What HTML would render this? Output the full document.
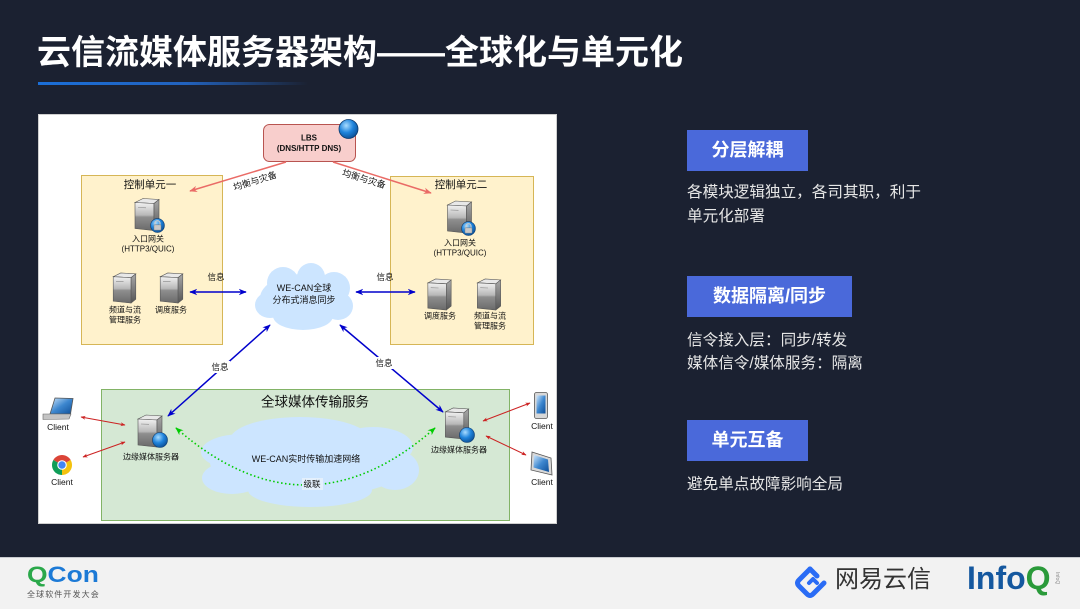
<!DOCTYPE html>
<html><head><meta charset="utf-8">
<style>
html,body{margin:0;padding:0;}
body{width:1080px;height:608px;background:#1b2131;position:relative;overflow:hidden;font-family:"Liberation Sans","Noto Sans CJK SC",sans-serif;}
.title{position:absolute;left:37px;top:31px;font-size:34px;font-weight:bold;color:#fff;white-space:nowrap;line-height:44px;}
.uline{position:absolute;left:38px;top:82px;width:270px;height:3px;background:linear-gradient(90deg,#1b6fd8 0%,#2262bd 55%,rgba(35,80,160,0) 100%);}
.tag{position:absolute;left:687px;height:41px;background:#4a69da;color:#fff;font-weight:bold;font-size:18px;line-height:41px;text-align:center;}
.desc{position:absolute;left:687px;color:#e6e6e6;font-size:15.6px;white-space:nowrap;}
.footer{position:absolute;left:0;top:557px;width:1080px;height:51px;background:#f2f2f2;border-top:1px solid #c9cbd0;}
</style></head>
<body>
<div class="title">云信流媒体服务器架构——全球化与单元化</div>
<div class="uline"></div>

<div class="tag" style="top:130px;width:121px;">分层解耦</div>
<div class="desc" style="top:181px;line-height:24px;">各模块逻辑独立，各司其职，利于<br>单元化部署</div>
<div class="tag" style="top:276px;width:165px;">数据隔离/同步</div>
<div class="desc" style="top:328.5px;line-height:23px;">信令接入层：同步/转发<br>媒体信令/媒体服务：隔离</div>
<div class="tag" style="top:420px;width:121px;">单元互备</div>
<div class="desc" style="top:473px;line-height:24px;">避免单点故障影响全局</div>

<svg style="position:absolute;left:0;top:0" width="1080" height="608" viewBox="0 0 1080 608" font-family="Liberation Sans, Noto Sans CJK SC, sans-serif">
<defs>
 <linearGradient id="sg" x1="0" y1="0" x2="0" y2="1">
  <stop offset="0" stop-color="#f2f2f2"/><stop offset="0.45" stop-color="#b8b8b8"/><stop offset="0.52" stop-color="#8e8e8e"/><stop offset="1" stop-color="#6a6a6a"/>
 </linearGradient>
 <linearGradient id="sd" x1="0" y1="0" x2="0" y2="1">
  <stop offset="0" stop-color="#a8a8a8"/><stop offset="1" stop-color="#555"/>
 </linearGradient>
 <radialGradient id="gb" cx="0.38" cy="0.32" r="0.75"><stop offset="0" stop-color="#a9dcff"/><stop offset="0.5" stop-color="#1f84dc"/><stop offset="1" stop-color="#0a4a8f"/></radialGradient>
 <linearGradient id="scr" x1="0" y1="0" x2="1" y2="1"><stop offset="0" stop-color="#cfe6fb"/><stop offset="0.5" stop-color="#3d87cf"/><stop offset="1" stop-color="#0f4f98"/></linearGradient>
 <symbol id="srv" viewBox="0 0 26 34">
   <path d="M1,5 L9,1 L25,2 L20,6 Z" fill="#e8e8e8" stroke="#555" stroke-width="0.6"/>
   <path d="M1,5 L20,6 L20,33 L1,31 Z" fill="url(#sg)" stroke="#555" stroke-width="0.6"/>
   <path d="M20,6 L25,2 L25,29 L20,33 Z" fill="url(#sd)" stroke="#555" stroke-width="0.6"/>
   <line x1="4" y1="10" x2="12" y2="10.3" stroke="#888" stroke-width="0.6"/>
 </symbol>
 <symbol id="lock" viewBox="0 0 16 16">
   <circle cx="8" cy="8" r="7.4" fill="url(#gb)" stroke="#0b3a6e" stroke-width="0.6"/>
   <path d="M5.3,7.5 V5.6 A2.7,2.7 0 0 1 10.7,5.6 V7.5" fill="none" stroke="#ccc" stroke-width="1.2"/>
   <rect x="4.2" y="7.3" width="7.6" height="5.6" rx="0.8" fill="#c8c8c8" stroke="#666" stroke-width="0.4"/>
 </symbol>
 <marker id="ab" viewBox="0 0 10 10" refX="9" refY="5" markerWidth="8" markerHeight="8" orient="auto-start-reverse" markerUnits="userSpaceOnUse"><path d="M0,1 L10,5 L0,9 L3,5 Z" fill="#0000cc"/></marker>
 <marker id="ar" viewBox="0 0 10 10" refX="9" refY="5" markerWidth="8" markerHeight="8" orient="auto-start-reverse" markerUnits="userSpaceOnUse"><path d="M0,1 L10,5 L0,9 L3,5 Z" fill="#ea6b66"/></marker>
 <marker id="ag" viewBox="0 0 10 10" refX="9" refY="5" markerWidth="8" markerHeight="8" orient="auto-start-reverse" markerUnits="userSpaceOnUse"><path d="M0,1 L10,5 L0,9 L3,5 Z" fill="#00cc00"/></marker>
 <marker id="ad" viewBox="0 0 10 10" refX="9" refY="5" markerWidth="5" markerHeight="5" orient="auto-start-reverse" markerUnits="userSpaceOnUse"><path d="M0,1 L10,5 L0,9 L3,5 Z" fill="#cc2222"/></marker>
</defs>

<!-- panel -->
<rect x="38.5" y="114.5" width="518" height="409" fill="#ffffff" stroke="#cfcfcf" stroke-width="1"/>

<!-- control units -->
<rect x="81.5" y="175.5" width="141" height="169" fill="#fff2cc" stroke="#d6b656"/>
<rect x="390.5" y="176.5" width="143" height="168" fill="#fff2cc" stroke="#d6b656"/>
<text x="150" y="185" font-size="10.5" text-anchor="middle" dominant-baseline="central" fill="#111">控制单元一</text>
<text x="461" y="185" font-size="10.5" text-anchor="middle" dominant-baseline="central" fill="#111">控制单元二</text>

<!-- LBS -->
<rect x="263.5" y="124.5" width="92" height="37" rx="6" fill="#f8cecc" stroke="#b85450"/>
<text x="309" y="138" font-size="8" font-weight="bold" text-anchor="middle" dominant-baseline="central" fill="#111">LBS</text>
<text x="309" y="148.5" font-size="8" font-weight="bold" text-anchor="middle" dominant-baseline="central" fill="#111">(DNS/HTTP DNS)</text>
<circle cx="348.5" cy="129" r="9.5" fill="url(#gb)" stroke="#0b3a6e" stroke-width="0.8"/>

<!-- LBS arrows -->
<line x1="286" y1="162" x2="190" y2="191" stroke="#ea6b66" stroke-width="1.5" marker-end="url(#ar)"/>
<line x1="333" y1="162" x2="431" y2="193" stroke="#ea6b66" stroke-width="1.5" marker-end="url(#ar)"/>
<text x="255" y="181" font-size="9" text-anchor="middle" dominant-baseline="central" fill="#111" transform="rotate(-17 255 181)">均衡与灾备</text>
<text x="364" y="179" font-size="9" text-anchor="middle" dominant-baseline="central" fill="#111" transform="rotate(17 364 179)">均衡与灾备</text>

<!-- servers unit 1 -->
<use href="#srv" x="134" y="197" width="26" height="35"/>
<use href="#lock" x="150" y="218" width="15" height="15"/>
<text x="148" y="239" font-size="8" text-anchor="middle" dominant-baseline="central" fill="#111">入口网关</text>
<text x="148" y="249" font-size="8" text-anchor="middle" dominant-baseline="central" fill="#111">(HTTP3/QUIC)</text>
<use href="#srv" x="112" y="272" width="25" height="32"/>
<use href="#srv" x="159" y="272" width="25" height="32"/>
<text x="125" y="310" font-size="8" text-anchor="middle" dominant-baseline="central" fill="#111">频道与流</text>
<text x="125" y="320" font-size="8" text-anchor="middle" dominant-baseline="central" fill="#111">管理服务</text>
<text x="171" y="310" font-size="8" text-anchor="middle" dominant-baseline="central" fill="#111">调度服务</text>

<!-- servers unit 2 -->
<use href="#srv" x="446" y="200" width="27" height="34"/>
<use href="#lock" x="461" y="221" width="15" height="15"/>
<text x="460" y="243" font-size="8" text-anchor="middle" dominant-baseline="central" fill="#111">入口网关</text>
<text x="460" y="253" font-size="8" text-anchor="middle" dominant-baseline="central" fill="#111">(HTTP3/QUIC)</text>
<use href="#srv" x="426" y="278" width="27" height="33"/>
<use href="#srv" x="476" y="278" width="26" height="33"/>
<text x="440" y="316" font-size="8" text-anchor="middle" dominant-baseline="central" fill="#111">调度服务</text>
<text x="490" y="316" font-size="8" text-anchor="middle" dominant-baseline="central" fill="#111">频道与流</text>
<text x="490" y="326" font-size="8" text-anchor="middle" dominant-baseline="central" fill="#111">管理服务</text>

<!-- cloud 1 -->
<g fill="#cce5ff">
 <ellipse cx="304" cy="298" rx="44" ry="24"/>
 <circle cx="283" cy="283" r="16"/>
 <circle cx="311" cy="277" r="14"/>
 <circle cx="334" cy="288" r="16"/>
 <ellipse cx="270" cy="305" rx="15" ry="13"/>
 <ellipse cx="338" cy="306" rx="15" ry="14"/>
 <ellipse cx="303" cy="316" rx="30" ry="14"/>
</g>
<text x="304" y="288" font-size="9" text-anchor="middle" dominant-baseline="central" fill="#111">WE-CAN全球</text>
<text x="304" y="300" font-size="9" text-anchor="middle" dominant-baseline="central" fill="#111">分布式消息同步</text>

<!-- blue arrows -->
<line x1="190" y1="292" x2="246" y2="292" stroke="#0000cc" stroke-width="1.5" marker-start="url(#ab)" marker-end="url(#ab)"/>
<line x1="356" y1="292" x2="415" y2="292" stroke="#0000cc" stroke-width="1.5" marker-start="url(#ab)" marker-end="url(#ab)"/>
<text x="216" y="277" font-size="8.5" text-anchor="middle" dominant-baseline="central" fill="#111">信息</text>
<text x="385" y="277" font-size="8.5" text-anchor="middle" dominant-baseline="central" fill="#111">信息</text>

<!-- green box -->
<rect x="101.5" y="389.5" width="408" height="131" fill="#d5e8d4" stroke="#82b366"/>
<text x="315" y="402" font-size="13.5" text-anchor="middle" dominant-baseline="central" fill="#111">全球媒体传输服务</text>

<line x1="270" y1="325" x2="168" y2="416" stroke="#0000cc" stroke-width="1.5" marker-start="url(#ab)" marker-end="url(#ab)"/>
<line x1="340" y1="325" x2="443" y2="412" stroke="#0000cc" stroke-width="1.5" marker-start="url(#ab)" marker-end="url(#ab)"/>
<rect x="210" y="361" width="20" height="12" fill="#ffffff"/>
<text x="220" y="367" font-size="8.5" text-anchor="middle" dominant-baseline="central" fill="#111">信息</text>
<rect x="374" y="357" width="20" height="12" fill="#ffffff"/>
<text x="384" y="363" font-size="8.5" text-anchor="middle" dominant-baseline="central" fill="#111">信息</text>

<!-- cloud 2 -->
<g fill="#cce5ff">
 <ellipse cx="310" cy="462" rx="100" ry="35"/>
 <ellipse cx="300" cy="440" rx="70" ry="23"/>
 <ellipse cx="242" cy="452" rx="41" ry="18"/>
 <ellipse cx="373" cy="447" rx="40" ry="20"/>
 <ellipse cx="395" cy="470" rx="24" ry="20"/>
 <ellipse cx="232" cy="478" rx="30" ry="16"/>
 <ellipse cx="310" cy="490" rx="62" ry="17"/>
</g>
<text x="306" y="459" font-size="9" text-anchor="middle" dominant-baseline="central" fill="#111">WE-CAN实时传输加速网络</text>

<!-- green dotted -->
<path d="M176,428 Q306,542 435,428" fill="none" stroke="#00cc00" stroke-width="1.6" stroke-dasharray="1.5,2.5" marker-start="url(#ag)" marker-end="url(#ag)"/>
<rect x="302" y="478" width="21" height="12" fill="#e4f0fc"/>
<text x="312" y="484" font-size="8.5" text-anchor="middle" dominant-baseline="central" fill="#111">级联</text>

<!-- edge servers -->
<use href="#srv" x="136" y="414" width="28" height="34"/>
<circle cx="160" cy="440" r="7.5" fill="url(#gb)" stroke="#0b3a6e" stroke-width="0.6"/>
<text x="151" y="457" font-size="8" text-anchor="middle" dominant-baseline="central" fill="#111">边缘媒体服务器</text>
<use href="#srv" x="443" y="407" width="28" height="33"/>
<circle cx="467" cy="435" r="7.5" fill="url(#gb)" stroke="#0b3a6e" stroke-width="0.6"/>
<text x="459" y="450" font-size="8" text-anchor="middle" dominant-baseline="central" fill="#111">边缘媒体服务器</text>

<!-- client arrows -->
<line x1="81" y1="417" x2="125" y2="425" stroke="#cc2222" stroke-width="1" marker-start="url(#ad)" marker-end="url(#ad)"/>
<line x1="83" y1="457" x2="125" y2="442" stroke="#cc2222" stroke-width="1" marker-start="url(#ad)" marker-end="url(#ad)"/>
<line x1="483" y1="421" x2="530" y2="403" stroke="#cc2222" stroke-width="1" marker-start="url(#ad)" marker-end="url(#ad)"/>
<line x1="486" y1="436" x2="526" y2="455" stroke="#cc2222" stroke-width="1" marker-start="url(#ad)" marker-end="url(#ad)"/>

<!-- laptop -->
<path d="M55,398 L73,398.5 L70.5,414 L50,414 Z" fill="url(#scr)" stroke="#555" stroke-width="0.8"/>
<path d="M43,414 L71,414 L69,419 L43,419.5 Z" fill="#c4c4c4" stroke="#666" stroke-width="0.6"/>
<text x="58" y="427" font-size="8.5" text-anchor="middle" dominant-baseline="central" fill="#111">Client</text>

<!-- chrome -->
<path d="M62,465 L53.34,460 A10,10 0 0 1 70.66,460 Z" fill="#db4437"/>
<path d="M62,465 L70.66,460 A10,10 0 0 1 62,475 Z" fill="#f4c20d"/>
<path d="M62,465 L62,475 A10,10 0 0 1 53.34,460 Z" fill="#0f9d58"/>
<circle cx="62" cy="465" r="4.8" fill="#fff"/>
<circle cx="62" cy="465" r="3.7" fill="#4285f4"/>
<text x="62" y="482" font-size="8.5" text-anchor="middle" dominant-baseline="central" fill="#111">Client</text>

<!-- phone -->
<rect x="534.5" y="392.5" width="13" height="26" rx="2" fill="#d8d8d8" stroke="#555" stroke-width="0.8"/>
<rect x="536.5" y="395.5" width="9" height="18" fill="url(#scr)"/>
<text x="542" y="426" font-size="8.5" text-anchor="middle" dominant-baseline="central" fill="#111">Client</text>

<!-- tablet -->
<path d="M532,452 L551,458 L552,475 L531,470 Z" fill="#d8d8d8" stroke="#555" stroke-width="0.8"/>
<path d="M534,455 L548,459.5 L549,472 L533.5,467.5 Z" fill="url(#scr)"/>
<text x="542" y="482" font-size="8.5" text-anchor="middle" dominant-baseline="central" fill="#111">Client</text>
</svg>

<div class="footer"></div>
<!-- QCon -->
<div style="position:absolute;left:27px;top:562px;font-size:22px;font-weight:bold;line-height:26px;white-space:nowrap;transform:scaleX(1.2);transform-origin:left top;"><span style="color:#2aa84a">Q</span><span style="color:#1c7ad6">Con</span></div>
<div style="position:absolute;left:27px;top:590px;font-size:8px;line-height:10px;color:#555;letter-spacing:1.1px;white-space:nowrap;">全球软件开发大会</div>

<!-- 网易云信 -->
<svg style="position:absolute;left:793px;top:566px" width="38" height="34" viewBox="0 0 38 34">
 <path d="M17,3 L6,14 Q3,17 6,20 L14,28 Q17,31 20,28 L31,17" fill="none" stroke="#2a6cf5" stroke-width="5" stroke-linejoin="round" stroke-linecap="round"/>
 <path d="M17,3 L24,10" fill="none" stroke="#2a6cf5" stroke-width="5" stroke-linecap="round"/>
 <path d="M16,17 L20,13 L24,17" fill="none" stroke="#2a6cf5" stroke-width="4" stroke-linecap="round" stroke-linejoin="round"/>
</svg>
<div style="position:absolute;left:835px;top:566px;font-size:24px;line-height:28px;color:#333;white-space:nowrap;">网易云信</div>

<!-- InfoQ -->
<div style="position:absolute;left:967px;top:561px;font-size:32px;font-weight:bold;line-height:35px;white-space:nowrap;"><span style="color:#15589f">Info</span><span style="color:#2a9a3a">Q</span></div>
<div style="position:absolute;left:1054px;top:572px;font-size:5px;color:#888;writing-mode:vertical-rl;line-height:6px;">InfoQ</div>
</body></html>
